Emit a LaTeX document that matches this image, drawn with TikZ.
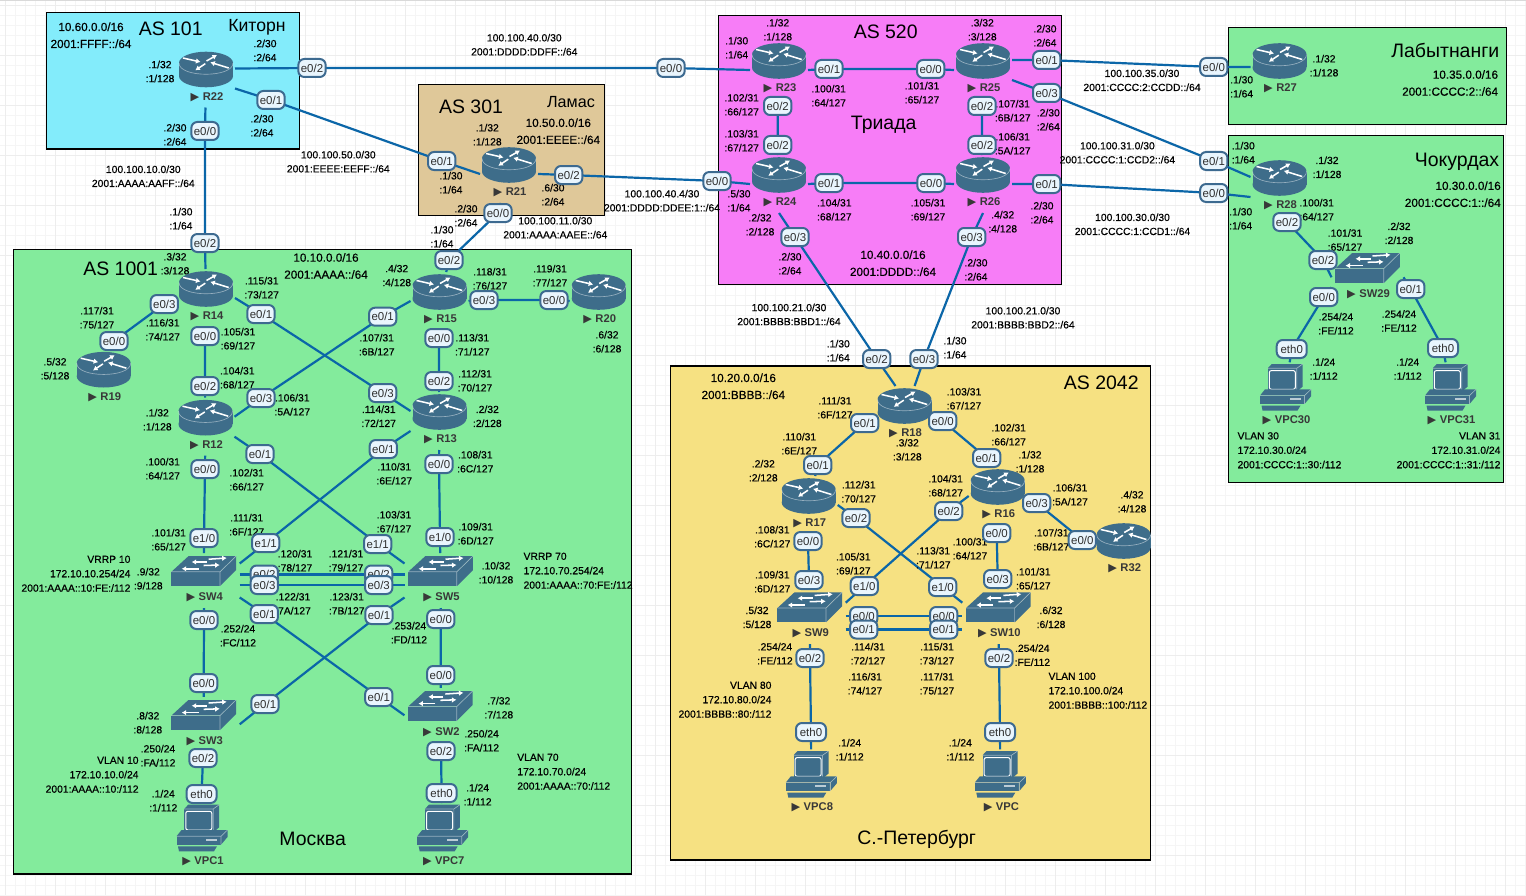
\documentclass[tikz,border=0pt]{standalone}
\usepackage{fontspec}
\usetikzlibrary{arrows.meta,calc}
\setmainfont{Liberation Sans}
\newfontfamily\lblf[FakeBold=0.5]{Liberation Sans}
\newfontfamily\plainf{Liberation Sans}
\newfontfamily\symf{DejaVu Sans}
\definecolor{icn}{HTML}{3E6D8A}
\definecolor{lnk}{HTML}{0B66A8}
\definecolor{prtb}{HTML}{3D6A90}
\definecolor{prtf}{HTML}{E9F5FD}
\pgfdeclarelayer{boxes}\pgfdeclarelayer{lines}\pgfdeclarelayer{texts}
\pgfsetlayers{boxes,lines,texts,main}
\newcounter{tn}
\tikzset{
  zone/.style={draw=black,line width=0.95pt},
  lbl/.style={inner sep=0pt,align=center,text=black,font=\lblf\fontsize{7.75}{10.5}\selectfont},
  big/.style={inner sep=0pt,align=center,text=black,font=\lblf\fontsize{8.8}{12.75}\selectfont},
  ttl/.style={inner sep=0pt,text=black,font=\plainf\fontsize{14.6}{16}\selectfont},
  vlan/.style={inner sep=0pt,text=black,font=\lblf\fontsize{7.75}{10.8}\selectfont},
  port/.style={draw=prtb,fill=prtf,line width=1.5pt,rounded corners=4.5pt,inner sep=0pt,
     minimum width=20.5pt,minimum height=13.5pt,text=black!82,font=\plainf\fontsize{8.6}{10}\selectfont},
  link/.style={draw=lnk,line width=1.65pt},
  devbox/.style={inner sep=0pt,outer sep=0pt,rectangle},
  devlab/.style={inner sep=0pt,text=black!78,font=\bfseries\plainf\fontsize{8.4}{10}\selectfont},
  wa/.style={white,line width=1.15pt,-{Latex[length=3.4pt,width=4.2pt]}},
  rim/.style={draw=white,draw opacity=.45,line width=.5pt},
  routerpic/.pic={
    \fill[icn] (0,6.5) ellipse[x radius=27,y radius=11.3];
    \fill[icn] (-27,-6.5) rectangle (27,6.5);
    \fill[icn] (0,-6.5) ellipse[x radius=27,y radius=11.3];
    \draw[rim] (-27,-6.5) .. controls (-27,8.5) and (27,8.5) .. (27,-6.5);
    \begin{scope}[shift={(0,-6.5)}]
    \draw[wa] (-23,-5) -- (-5.5,-1);
    \draw[wa] (0.5,-2) -- (11,-8);
    \draw[wa] (22.7,5) -- (4.3,-.7);
    \draw[wa] (-.7,.7) -- (-10.7,7.3);
    \end{scope}
  },
  switchpic/.pic={
    \fill[icn] (-32.3,.3) rectangle (16.3,14.7);
    \fill[icn] (-32.3,.3) -- (-15.3,-15.3) -- (32.3,-15.3) -- (16.3,.3) -- cycle;
    \fill[icn] (16.3,.3) -- (32.3,-15.3) -- (32.3,-1.3) -- (16.3,14.7) -- cycle;
    \draw[rim] (-32.3,.3) -- (16.3,.3) -- (32.3,-15.3) (16.3,.3) -- (16.3,14.7);
    \draw[wa] (5,-12.3) -- (23,-13.5);
    \draw[wa] (3,-9.5) -- (-12,-9.5);
    \draw[wa] (0,-6) -- (16,-6.5);
    \draw[wa] (-5,-2.7) -- (-22,-2.7);
  },
  pcpic/.pic={
    \fill[icn] (-17.8,-19) rectangle (11.2,4.3);
    \fill[icn] (-17.8,-19) -- (-13.8,-23.3) -- (17.2,-23.3) -- (11.2,-19) -- cycle;
    \fill[icn] (11.2,-19) -- (17.2,-23.3) -- (17.2,-.7) -- (11.2,4.3) -- cycle;
    \draw[white,line width=.75pt,rounded corners=1.5pt] (-16.2,-16.7) rectangle (9.8,2);
    \draw[rim] (-17.8,-19) -- (11.2,-19) -- (17.2,-23.3) (11.2,-19) -- (11.2,4.3);
    \fill[icn] (-25.5,8.3) -- (-20.5,2) -- (25.5,2) -- (19,8.3) -- cycle;
    \fill[icn] (-25.5,8.3) rectangle (19,16.7);
    \fill[icn] (19,8.3) -- (25.5,2) -- (25.5,9) -- (19,16.7) -- cycle;
    \draw[rim] (-25.5,8.3) -- (19,8.3) -- (25.5,2) (19,8.3) -- (19,16.7);
    \fill[white,opacity=.65] (4,11) rectangle (15,12.7);
    \fill[icn] (-24,18.3) -- (15,18.3) -- (12,23.3) -- (-23,23.3) -- cycle;
  }
}
\newcommand\devlabel[3]{\node[devlab] (#1-l) at (#2+1,#3) {{\symf\fontsize{8.4}{10}\selectfont ▶}\hspace{2.6pt}#1};}
\newcommand\rtr[3]{\path (#2,#3) pic {routerpic};
  \node[devbox,minimum width=43.5pt,minimum height=43.5pt] (#1) at (#2,#3+9) {};
  \coordinate (#1-ne) at ($(#1.east)+(0,-10)$);
  \coordinate (#1-se) at ($(#1.east)+(0,10)$);
  \coordinate (#1-nw) at ($(#1.west)+(0,-10)$);
  \coordinate (#1-sw) at ($(#1.west)+(0,10)$);
  \devlabel{#1}{#2}{#3+27.7}}
\newcommand\swt[3]{\path (#2,#3) pic {switchpic};
  \node[devbox,minimum width=54pt,minimum height=41.25pt] (#1) at (#2,#3+9) {};
  \devlabel{#1}{#2}{#3+25.5}}
\newcommand\pcn[3]{\path (#2,#3) pic {pcpic};
  \node[devbox,minimum width=45pt,minimum height=41.25pt] (#1) at (#2,#3+2.5) {};
  \devlabel{#1}{#2}{#3+33}}
\newcommand\prt[4]{\node[port] (#1) at (#2,#3) {#4};}
\newcommand\ethp[3]{\node[port,minimum width=22.5pt] (#1) at (#2,#3) {eth0};}
\newcommand\lb[3]{\stepcounter{tn}\node[lbl] (t\arabic{tn}) at (#1,#2) {#3};}
\newcommand\bg[3]{\stepcounter{tn}\node[big] (t\arabic{tn}) at (#1,#2) {#3};}
\newcommand\bgr[3]{\stepcounter{tn}\node[big,anchor=east,align=right] (t\arabic{tn}) at (#1,#2) {#3};}
\newcommand\vl[3]{\stepcounter{tn}\node[vlan,anchor=west,align=left] (t\arabic{tn}) at (#1,#2) {#3};}
\newcommand\vr[3]{\stepcounter{tn}\node[vlan,anchor=east,align=right] (t\arabic{tn}) at (#1,#2) {#3};}
\newcommand\tl[3]{\stepcounter{tn}\node[ttl] (t\arabic{tn}) at (#1,#2) {#3};}
\newcommand\lk[4]{\draw[link] (#1) -- (#2.center) -- (#3.center) -- (#4);}
\begin{document}
\begin{tikzpicture}[x=0.75pt,y=-0.75pt]
\useasboundingbox (0,0) rectangle (1526,895);
\begin{pgfonlayer}{boxes}
\fill[white] (0,0) rectangle (1526,895);
\foreach \i in {0,...,152} \draw[black!4,line width=.5pt] (\i*10+5,0) -- (\i*10+5,895);
\foreach \i in {0,...,89} \draw[black!4,line width=.5pt] (0,\i*10+5) -- (1526,\i*10+5);
\foreach \i in {0,...,30} \draw[black!7,line width=.6pt] (\i*50+5,0) -- (\i*50+5,895);
\foreach \i in {0,...,17} \draw[black!7,line width=.6pt] (0,\i*50+5) -- (1526,\i*50+5);
\fill[black!15] (0,0) rectangle (1526,1.5);
\draw[zone,fill={rgb,255:red,131;green,236;blue,251}] (46.5,12.5) rectangle (299.5,149);
\draw[zone,fill={rgb,255:red,223;green,200;blue,153}] (418.5,84.5) rectangle (604.5,215.5);
\draw[zone,fill={rgb,255:red,247;green,125;blue,247}] (718.5,15.5) rectangle (1061.5,284.5);
\draw[zone,fill={rgb,255:red,131;green,235;blue,156}] (13.5,249.5) rectangle (631.7,874);
\draw[zone,fill={rgb,255:red,246;green,225;blue,130}] (670.5,366) rectangle (1150.7,860);
\draw[zone,fill={rgb,255:red,131;green,235;blue,156}] (1228.8,27.5) rectangle (1506.7,124.5);
\draw[zone,fill={rgb,255:red,131;green,235;blue,156}] (1228.5,135.3) rectangle (1503.3,482.3);
\end{pgfonlayer}
% devices
\rtr{R22}{206}{69.5}
\rtr{R21}{509}{165}
\rtr{R23}{779}{61}
\rtr{R24}{779}{175}
\rtr{R25}{983}{61}
\rtr{R26}{983}{175}
\rtr{R27}{1279.5}{61}
\rtr{R28}{1279.5}{178}
\rtr{R14}{206}{289}
\rtr{R15}{439.5}{292}
\rtr{R20}{598.7}{292}
\rtr{R19}{103.7}{369.7}
\rtr{R12}{205.5}{417.7}
\rtr{R13}{439.5}{412}
\swt{SW4}{203.7}{571.5}
\swt{SW5}{440.5}{571.5}
\swt{SW3}{203.7}{715.3}
\swt{SW2}{440.4}{706.3}
\pcn{VPC1}{202}{828}
\pcn{VPC7}{442.7}{828}
\rtr{R18}{904.5}{406}
\rtr{R17}{808.7}{496}
\rtr{R16}{997.7}{487}
\rtr{R32}{1123.7}{541}
\swt{SW9}{809.7}{607.7}
\swt{SW10}{998.3}{607.7}
\pcn{VPC8}{811.3}{774.3}
\pcn{VPC}{1000.3}{774.3}
\swt{SW29}{1367.5}{268.3}
\pcn{VPC30}{1285.5}{387.3}
\pcn{VPC31}{1450.5}{387.3}
% ports
\prt{R22e2}{312}{68}{e0/2}
\prt{R22e1}{271}{100}{e0/1}
\prt{R22e0}{205}{131}{e0/0}
\prt{R14e2}{205}{243}{e0/2}
\prt{R23e0}{671}{68}{e0/0}
\prt{R21e1}{441.7}{161}{e0/1}
\prt{R21e2}{568.7}{175}{e0/2}
\prt{R24e0}{717}{181}{e0/0}
\prt{R21e0}{498}{213}{e0/0}
\prt{R15e2}{449}{260}{e0/2}
\prt{R15e3}{484}{300}{e0/3}
\prt{R20e0}{554}{300}{e0/0}
\prt{R14e3}{164.3}{304}{e0/3}
\prt{R19e0}{114}{341}{e0/0}
\prt{R14e1}{261}{314}{e0/1}
\prt{R14e0}{205}{336}{e0/0}
\prt{R12e2}{205}{386}{e0/2}
\prt{R12e3}{261}{398}{e0/3}
\prt{R12e1}{260}{454}{e0/1}
\prt{R12e0}{205}{469}{e0/0}
\prt{SW4f0}{204}{538}{e1/0}
\prt{SW4f1}{265.7}{543}{e1/1}
\prt{SW4e2}{264.3}{574.5}{e0/2}
\prt{SW4e3}{264.3}{585}{e0/3}
\prt{SW4e1}{264.3}{614}{e0/1}
\prt{SW4e0}{204}{620}{e0/0}
\prt{SW3e0}{203.7}{683}{e0/0}
\prt{SW3e1}{265}{704}{e0/1}
\prt{SW3e2}{203}{758}{e0/2}
\ethp{VPC1e}{201.6}{794}
\prt{R15e1}{382.7}{316.7}{e0/1}
\prt{R15e0}{439}{338}{e0/0}
\prt{R13e2}{439}{381}{e0/2}
\prt{R13e3}{382.7}{393}{e0/3}
\prt{R13e1}{383.3}{449}{e0/1}
\prt{R13e0}{439}{464}{e0/0}
\prt{SW5f0}{440}{537}{e1/0}
\prt{SW5f1}{377.7}{544}{e1/1}
\prt{SW5e2}{378.7}{574.5}{e0/2}
\prt{SW5e3}{378.7}{585}{e0/3}
\prt{SW5e1}{379}{615}{e0/1}
\prt{SW5e0}{440.8}{619}{e0/0}
\prt{SW2e0}{440.8}{675}{e0/0}
\prt{SW2e1}{378.8}{697}{e0/1}
\prt{SW2e2}{441}{751}{e0/2}
\ethp{VPC7e}{441.6}{793}
\prt{R23e1}{829}{69}{e0/1}
\prt{R25e0}{930.7}{69}{e0/0}
\prt{R23e2}{777.7}{106}{e0/2}
\prt{R24e2}{777.7}{145}{e0/2}
\prt{R25e2}{982}{106}{e0/2}
\prt{R26e2}{982}{145}{e0/2}
\prt{R24e1}{829}{183}{e0/1}
\prt{R26e0}{931}{183}{e0/0}
\prt{R24e3}{795}{237}{e0/3}
\prt{R26e3}{971.7}{237}{e0/3}
\prt{R25e1}{1046.7}{60}{e0/1}
\prt{R25e3}{1046.7}{93}{e0/3}
\prt{R26e1}{1046.7}{184}{e0/1}
\prt{R27e0}{1213.8}{67}{e0/0}
\prt{R28e1}{1213.8}{161}{e0/1}
\prt{R28e0}{1213.8}{193}{e0/0}
\prt{R28e2}{1287}{222}{e0/2}
\prt{SW29e2}{1323}{260}{e0/2}
\prt{SW29e0}{1323.7}{297}{e0/0}
\prt{SW29e1}{1410.7}{289}{e0/1}
\ethp{VPC30e}{1291.7}{349}
\ethp{VPC31e}{1443}{348}
\prt{R18e2}{876.7}{359}{e0/2}
\prt{R18e3}{924}{359}{e0/3}
\prt{R18e1}{864.7}{423}{e0/1}
\prt{R17e1}{817.7}{465}{e0/1}
\prt{R18e0}{942.7}{421}{e0/0}
\prt{R16e1}{986.7}{458}{e0/1}
\prt{R17e2}{856}{518}{e0/2}
\prt{R16e2}{948.7}{511}{e0/2}
\prt{R16e3}{1036.7}{503}{e0/3}
\prt{R32e0}{1082.3}{540}{e0/0}
\prt{R17e0}{808}{541}{e0/0}
\prt{SW9e3}{809}{580}{e0/3}
\prt{R16e0}{996.7}{533}{e0/0}
\prt{SW10e3}{997.7}{579}{e0/3}
\prt{SW9f0}{864.3}{586}{e1/0}
\prt{SW10f0}{942.7}{587}{e1/0}
\prt{SW9e0}{863.7}{616}{e0/0}
\prt{SW9e1}{863.7}{629.5}{e0/1}
\prt{SW10e0}{943.7}{616}{e0/0}
\prt{SW10e1}{943.7}{629.5}{e0/1}
\prt{SW9e2}{810}{658}{e0/2}
\prt{SW10e2}{999}{658}{e0/2}
\ethp{VPC8e}{811}{732}
\ethp{VPCe}{1000}{732}
% connectors
\begin{pgfonlayer}{lines}
\lk{R22-ne}{R22e2}{R23e0}{R23.west}
\lk{R22-se}{R22e1}{R21e1}{R21.west}
\lk{R22}{R22e0}{R14e2}{R14}
\lk{R21.east}{R21e2}{R24e0}{R24.west}
\lk{R21}{R21e0}{R15e2}{R15}
\lk{R23.east}{R23e1}{R25e0}{R25.west}
\lk{R23}{R23e2}{R24e2}{R24}
\lk{R25}{R25e2}{R26e2}{R26}
\lk{R24.east}{R24e1}{R26e0}{R26.west}
\lk{R25-ne}{R25e1}{R27e0}{R27.west |- R27e0}
\lk{R25-se}{R25e3}{R28e1}{R28-nw}
\lk{R26.east}{R26e1}{R28e0}{R28-sw}
\lk{R24.south}{R24e3}{R18e2}{$(R18.north)+(-9,0)$}
\lk{R26.south}{R26e3}{R18e3}{R18}
\lk{R28}{R28e2}{SW29e2}{SW29.west}
\lk{$(SW29.west)+(0,10)$}{SW29e0}{VPC30e}{VPC30}
\lk{SW29.east}{SW29e1}{VPC31e}{VPC31}
\lk{R14.west}{R14e3}{R19e0}{R19}
\lk{R14}{R14e0}{R12e2}{R12}
\lk{R14.east}{R14e1}{R13e3}{R13-nw}
\lk{R12-ne}{R12e3}{R15e1}{R15.west}
\lk{R15.east}{R15e3}{R20e0}{R20.west}
\lk{R15}{R15e0}{R13e2}{R13}
\lk{R12}{R12e0}{SW4f0}{SW4}
\lk{R12-se}{R12e1}{SW5f1}{$(SW5.west)+(0,-17)$}
\lk{R13-sw}{R13e1}{SW4f1}{$(SW4.east)+(0,-17)$}
\lk{R13}{R13e0}{SW5f0}{SW5}
\lk{SW4.east |- SW4e2}{SW4e2}{SW5e2}{SW5.west |- SW5e2}
\lk{SW4.east |- SW4e3}{SW4e3}{SW5e3}{SW5.west |- SW5e3}
\lk{$(SW4.east)+(0,17)$}{SW4e1}{SW2e1}{SW2.west}
\lk{$(SW5.west)+(0,17)$}{SW5e1}{SW3e1}{SW3.east}
\lk{SW4}{SW4e0}{SW3e0}{SW3}
\lk{SW5}{SW5e0}{SW2e0}{SW2}
\lk{SW3}{SW3e2}{VPC1e}{VPC1}
\lk{SW2}{SW2e2}{VPC7e}{VPC7}
\lk{R18.west}{R18e1}{R17e1}{R17}
\lk{R18.east}{R18e0}{R16e1}{R16}
\lk{R17.east}{R17e2}{SW10f0}{$(SW10.west)+(0,-14)$}
\lk{R16.west}{R16e2}{SW9f0}{$(SW9.east)+(0,-14)$}
\lk{R16.east}{R16e3}{R32e0}{R32.west |- R32e0}
\lk{R17}{R17e0}{SW9e3}{SW9}
\lk{R16}{R16e0}{SW10e3}{SW10}
\lk{SW9.east |- SW9e0}{SW9e0}{SW10e0}{SW10.west |- SW10e0}
\lk{SW9.east |- SW9e1}{SW9e1}{SW10e1}{SW10.west |- SW10e1}
\lk{SW9}{SW9e2}{VPC8e}{VPC8}
\lk{SW10}{SW10e2}{VPCe}{VPC}
\end{pgfonlayer}
% texts
\begin{pgfonlayer}{texts}
\tl{170.7}{29}{AS 101}
\tl{257}{27.7}{\fontsize{13.2}{16}\selectfont Киторн}
\tl{471}{106.7}{AS 301}
\tl{571}{102.3}{\fontsize{12.1}{16}\selectfont Ламас}
\tl{885.7}{31.7}{AS 520}
\tl{883.7}{125}{Триада}
\tl{1445.3}{50}{Лабытнанги}
\tl{1457}{161.7}{Чокурдах}
\tl{120.7}{268.3}{AS 1001}
\tl{312.7}{838.7}{Москва}
\tl{1101.3}{382.7}{AS 2042}
\tl{916.7}{839}{С.-Петербург}
\bg{91}{35.3}{10.60.0.0/16\\2001:FFFF::/64}
\bg{558.3}{131.2}{10.50.0.0/16\\2001:EEEE::/64}
\bg{893}{263.2}{10.40.0.0/16\\2001:DDDD::/64}
\bg{326}{266}{10.10.0.0/16\\2001:AAAA::/64}
\bg{743.3}{386.3}{10.20.0.0/16\\2001:BBBB::/64}
\bgr{1498.3}{83}{10.35.0.0/16\\2001:CCCC:2::/64}
\bgr{1501}{194.2}{10.30.0.0/16\\2001:CCCC:1::/64}
\lb{265}{50.5}{.2/30\\:2/64}
\lb{160}{71.5}{.1/32\\:1/128}
\lb{262}{125.7}{.2/30\\:2/64}
\lb{175}{134.7}{.2/30\\:2/64}
\lb{338.3}{161.7}{100.100.50.0/30\\2001:EEEE:EEFF::/64}
\lb{143.3}{176.3}{100.100.10.0/30\\2001:AAAA:AAFF::/64}
\lb{181}{218.7}{.1/30\\:1/64}
\lb{175}{263.7}{.3/32\\:3/128}
\lb{261.7}{287.7}{.115/31\\:73/127}
\lb{396.7}{275.5}{.4/32\\:4/128}
\lb{524.3}{44.7}{100.100.40.0/30\\2001:DDDD:DDFF::/64}
\lb{487.3}{134.7}{.1/32\\:1/128}
\lb{451}{182.7}{.1/30\\:1/64}
\lb{553}{194.7}{.6/30\\:2/64}
\lb{466}{215.7}{.2/30\\:2/64}
\lb{442}{236.7}{.1/30\\:1/64}
\lb{555.3}{227.7}{100.100.11.0/30\\2001:AAAA:AAEE::/64}
\lb{662}{200.7}{100.100.40.4/30\\2001:DDDD:DDEE:1::/64}
\lb{736.7}{47.7}{.1/30\\:1/64}
\lb{777.7}{29.7}{.1/32\\:1/128}
\lb{741.7}{104.7}{.102/31\\:66/127}
\lb{741.7}{140.7}{.103/31\\:67/127}
\lb{739}{200.7}{.5/30\\:1/64}
\lb{760}{224.7}{.2/32\\:2/128}
\lb{790}{263.7}{.2/30\\:2/64}
\lb{490}{278.7}{.118/31\\:76/127}
\lb{550}{275.7}{.119/31\\:77/127}
\lb{828.7}{95.7}{.100/31\\:64/127}
\lb{922}{92.7}{.101/31\\:65/127}
\lb{982.3}{29.7}{.3/32\\:3/128}
\lb{1045}{35.7}{.2/30\\:2/64}
\lb{1012.7}{110.7}{.107/31\\:6B/127}
\lb{1012.7}{143.7}{.106/31\\:5A/127}
\lb{1048.3}{119.7}{.2/30\\:2/64}
\lb{834.3}{209.7}{.104/31\\:68/127}
\lb{928}{209.7}{.105/31\\:69/127}
\lb{1002.7}{221.7}{.4/32\\:4/128}
\lb{976}{269.7}{.2/30\\:2/64}
\lb{1042}{212.7}{.2/30\\:2/64}
\lb{1142}{80.3}{100.100.35.0/30\\2001:CCCC:2:CCDD::/64}
\lb{1117.4}{152.7}{100.100.31.0/30\\2001:CCCC:1:CCD2::/64}
\lb{1132.5}{224.3}{100.100.30.0/30\\2001:CCCC:1:CCD1::/64}
\lb{1241.6}{86.7}{.1/30\\:1/64}
\lb{1324}{65.7}{.1/32\\:1/128}
\lb{1243.3}{152.7}{.1/30\\:1/64}
\lb{1240.7}{218.7}{.1/30\\:1/64}
\lb{1327}{167.3}{.1/32\\:1/128}
\lb{1316.7}{209.7}{.100/31\\:64/127}
\lb{1345}{240}{.101/31\\:65/127}
\lb{1399}{233.3}{.2/32\\:2/128}
\lb{1336}{323.7}{.254/24\\:FE/112}
\lb{1399}{321}{.254/24\\:FE/112}
\lb{1323.7}{369}{.1/24\\:1/112}
\lb{1407.7}{369}{.1/24\\:1/112}
\vl{1237.3}{450.3}{VLAN 30\\172.10.30.0/24\\2001:CCCC:1::30:/112}
\vr{1500.7}{450.3}{VLAN 31\\172.10.31.0/24\\2001:CCCC:1::31:/112}
\lb{97}{317.7}{.117/31\\:75/127}
\lb{162.7}{329.7}{.116/31\\:74/127}
\lb{238}{338.7}{.105/31\\:69/127}
\lb{237.3}{377.7}{.104/31\\:68/127}
\lb{55}{368.7}{.5/32\\:5/128}
\lb{292.3}{404.7}{.106/31\\:5A/127}
\lb{157.3}{419.7}{.1/32\\:1/128}
\lb{162.7}{468.7}{.100/31\\:64/127}
\lb{246.7}{479.7}{.102/31\\:66/127}
\lb{246.7}{524.7}{.111/31\\:6F/127}
\lb{168.7}{539.7}{.101/31\\:65/127}
\lb{295}{560.7}{.120/31\\:78/127}
\lb{293}{603.7}{.122/31\\:7A/127}
\vr{130.7}{573.7}{VRRP 10\\172.10.10.254/24\\2001:AAAA::10:FE:/112}
\lb{148.3}{578.7}{.9/32\\:9/128}
\lb{376.7}{344.7}{.107/31\\:6B/127}
\lb{472.3}{344.7}{.113/31\\:71/127}
\lb{475}{380.7}{.112/31\\:70/127}
\lb{378.7}{416.3}{.114/31\\:72/127}
\lb{487.3}{416.3}{.2/32\\:2/128}
\lb{394.3}{473.7}{.110/31\\:6E/127}
\lb{475.3}{461.7}{.108/31\\:6C/127}
\lb{394}{521.7}{.103/31\\:67/127}
\lb{475.7}{533.7}{.109/31\\:6D/127}
\lb{346}{560.7}{.121/31\\:79/127}
\lb{346.7}{603.7}{.123/31\\:7B/127}
\lb{496}{572.7}{.10/32\\:10/128}
\vl{523.3}{570.7}{VRRP 70\\172.10.70.254/24\\2001:AAAA::70:FE:/112}
\lb{607}{341.7}{.6/32\\:6/128}
\lb{238}{635.7}{.252/24\\:FC/112}
\lb{409}{632.7}{.253/24\\:FD/112}
\lb{147.8}{722.7}{.8/32\\:8/128}
\lb{498.8}{707.7}{.7/32\\:7/128}
\lb{158}{755.7}{.250/24\\:FA/112}
\lb{481.6}{740.7}{.250/24\\:FA/112}
\vr{138.8}{774.7}{VLAN 10\\172.10.10.0/24\\2001:AAAA::10:/112}
\vl{517}{771.7}{VLAN 70\\172.10.70.0/24\\2001:AAAA::70:/112}
\lb{163.3}{800.7}{.1/24\\:1/112}
\lb{477.6}{794.7}{.1/24\\:1/112}
\lb{789}{314.5}{100.100.21.0/30\\2001:BBBB:BBD1::/64}
\lb{838.3}{350.7}{.1/30\\:1/64}
\lb{835}{407.7}{.111/31\\:6F/127}
\lb{799.3}{443.7}{.110/31\\:6E/127}
\lb{763.3}{470.7}{.2/32\\:2/128}
\lb{858.7}{491.7}{.112/31\\:70/127}
\lb{772.3}{536.7}{.108/31\\:6C/127}
\lb{772.3}{581.7}{.109/31\\:6D/127}
\lb{853.3}{563.7}{.105/31\\:69/127}
\lb{907.3}{449.7}{.3/32\\:3/128}
\lb{1023}{317.7}{100.100.21.0/30\\2001:BBBB:BBD2::/64}
\lb{955}{347.7}{.1/30\\:1/64}
\lb{964}{398.7}{.103/31\\:67/127}
\lb{1008.7}{434.7}{.102/31\\:66/127}
\lb{1030}{461.7}{.1/32\\:1/128}
\lb{945.7}{485.7}{.104/31\\:68/127}
\lb{1070}{494.7}{.106/31\\:5A/127}
\lb{1132}{501.7}{.4/32\\:4/128}
\lb{1051.3}{539.7}{.107/31\\:6B/127}
\lb{970}{548.7}{.100/31\\:64/127}
\lb{933.3}{557.7}{.113/31\\:71/127}
\lb{1033.3}{578.7}{.101/31\\:65/127}
\lb{757}{617.3}{.5/32\\:5/128}
\lb{1051}{617.3}{.6/32\\:6/128}
\lb{868}{653.7}{.114/31\\:72/127}
\lb{937}{653.7}{.115/31\\:73/127}
\lb{865}{683.7}{.116/31\\:74/127}
\lb{937}{683.7}{.117/31\\:75/127}
\lb{775}{653.7}{.254/24\\:FE/112}
\lb{1032.3}{655.2}{.254/24\\:FE/112}
\vr{771.7}{699.7}{VLAN 80\\172.10.80.0/24\\2001:BBBB::80:/112}
\vl{1048.3}{690.7}{VLAN 100\\172.10.100.0/24\\2001:BBBB::100:/112}
\lb{849.7}{749.7}{.1/24\\:1/112}
\lb{960.3}{749.7}{.1/24\\:1/112}
\end{pgfonlayer}
\end{tikzpicture}
\end{document}
